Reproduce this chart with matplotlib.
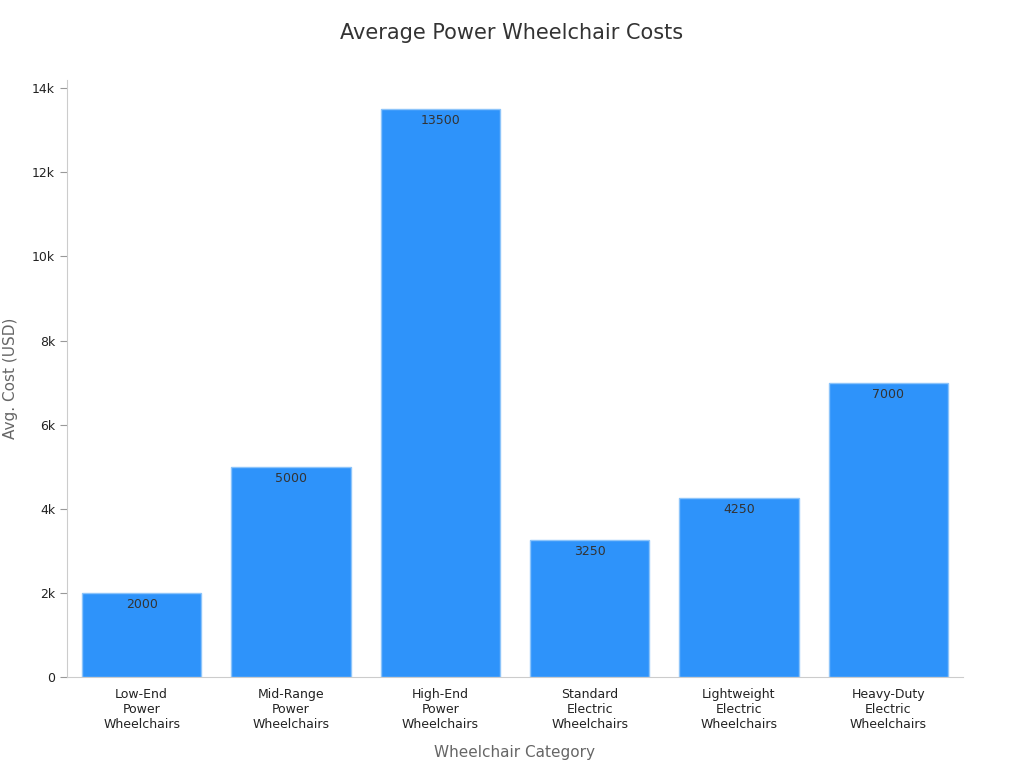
import matplotlib
matplotlib.use("Agg")
import matplotlib.pyplot as plt

categories = ["Low-End\nPower\nWheelchairs", "Mid-Range\nPower\nWheelchairs", "High-End\nPower\nWheelchairs",
              "Standard\nElectric\nWheelchairs", "Lightweight\nElectric\nWheelchairs", "Heavy-Duty\nElectric\nWheelchairs"]
values = [2000, 5000, 13500, 3250, 4250, 7000]
yticks = [0, 2000, 4000, 6000, 8000, 10000, 12000, 14000]
yticklabels = ["0", "2k", "4k", "6k", "8k", "10k", "12k", "14k"]

plt.rcParams['font.family'] = ['DejaVu Sans']
fig = plt.figure(figsize=(10.24, 7.68), dpi=100)
ax = fig.add_axes([0.0654, 0.1185, 0.8750, 0.7775])
x = range(len(values))
bars = ax.bar(x, values, width=0.8, color="#2E93FA", edgecolor="#8CC4FA", linewidth=1)
for xi, v in zip(x, values):
    ax.text(xi, v - 120, str(v), ha="center", va="top", fontsize=9, color="#333333")
ax.set_xlim(-0.5, len(values) - 0.5)
ax.set_ylim(0, 14200)
ax.set_yticks(yticks)
ax.set_yticklabels(yticklabels)
ax.set_xticks(list(x))
ax.set_xticklabels(categories)
ax.tick_params(axis="both", labelsize=9, colors="#222222")
ax.tick_params(axis="x", length=0, pad=8)
ax.tick_params(axis="y", color="#999999", length=5)
for s in ["top", "right"]:
    ax.spines[s].set_visible(False)
for s in ["left", "bottom"]:
    ax.spines[s].set_color("#cccccc")
ax.set_xlabel("Wheelchair Category", fontsize=11, color="#666666", labelpad=10)
ax.set_ylabel("Avg. Cost (USD)", fontsize=11, color="#666666", labelpad=10)
fig.suptitle("Average Power Wheelchair Costs", fontsize=15, color="#333333", y=0.97)
fig.savefig("out.png", dpi=100)
